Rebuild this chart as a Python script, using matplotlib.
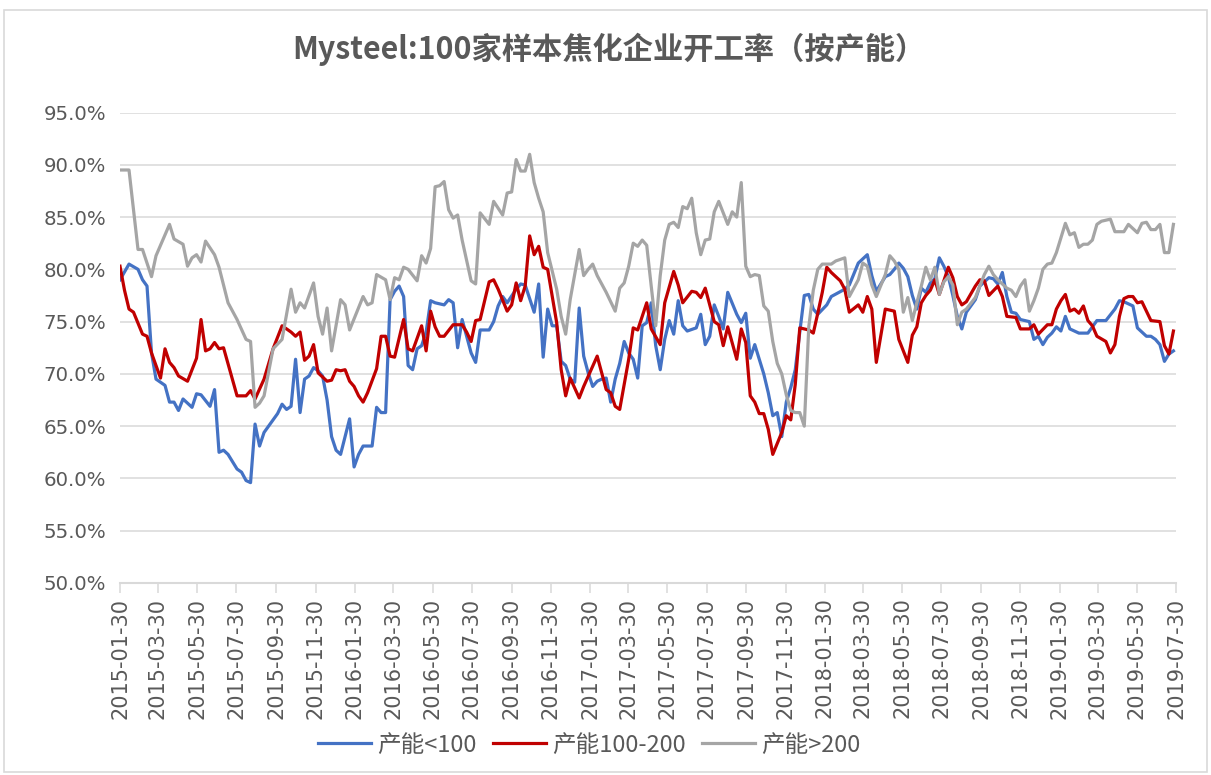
import matplotlib
matplotlib.use("Agg")
import matplotlib.pyplot as plt
import matplotlib.dates as mdates
import matplotlib.patches as patches
from matplotlib.ticker import FuncFormatter
import numpy as np
import pandas as pd

plt.rcParams["font.family"] = ["DejaVu Sans"]

START = "2015-01-30"
title = "Mysteel:100家样本焦化企业开工率（按产能）"
labels = ["产能<100", "产能100-200", "产能>200"]
colors = ["#4472C4", "#C00000", "#A5A5A5"]

# weeks after 2015-01-30, capacity < 100
blue_weeks = [0, 2, 4, 5, 6, 7, 8, 10, 11, 12, 13, 14, 16, 17, 18, 20, 21, 22, 23, 24,
              26, 27, 28, 29, 30, 31, 32, 33, 35, 36, 37, 38, 39, 40, 41, 42, 43, 44, 45, 46,
              47, 48, 49, 51, 52, 53, 54, 56, 57, 58, 59, 60, 61, 62, 63, 64, 65, 66, 67, 68,
              69, 70, 72, 73, 74, 75, 76, 77, 78, 79, 80, 82, 83, 84, 85, 86, 88, 89, 90, 91,
              92, 93, 94, 95, 96, 97, 98, 99, 100, 101, 102, 103, 104, 105, 106, 107, 108, 109, 110, 111,
              112, 113, 114, 115, 116, 117, 118, 119, 120, 121, 122, 123, 124, 125, 126, 128, 129, 130, 131, 132,
              133, 134, 135, 137, 138, 139, 140, 141, 143, 144, 145, 146, 147, 148, 149, 150, 151, 152, 153, 154,
              155, 157, 158, 161, 162, 164, 166, 167, 168, 170, 171, 172, 173, 174, 175, 176, 177, 178, 179, 180,
              181, 182, 183, 184, 185, 186, 187, 188, 189, 190, 191, 193, 194, 195, 196, 197, 198, 199, 200, 202,
              203, 204, 205, 206, 207, 208, 209, 210, 211, 213, 215, 217, 219, 221, 222, 223, 225, 226, 228, 229,
              230, 231, 232, 233, 234]
blue_vals = [79.0, 80.5, 80.0, 79.0, 78.4, 72.0, 69.5, 68.9, 67.3, 67.3, 66.5, 67.6, 66.8, 68.1, 68.0, 66.9, 68.5, 62.5, 62.7, 62.3,
             60.9, 60.6, 59.8, 59.6, 65.2, 63.1, 64.4, 65.0, 66.2, 67.1, 66.6, 66.9, 71.4, 66.3, 69.5, 69.8, 70.6, 70.3, 69.8, 67.5,
             64.0, 62.7, 62.3, 65.7, 61.1, 62.3, 63.1, 63.1, 66.8, 66.3, 66.3, 77.1, 77.9, 78.4, 77.4, 70.8, 70.4, 72.4, 72.7, 74.0,
             77.0, 76.8, 76.6, 77.1, 76.8, 72.5, 75.2, 73.6, 72.0, 71.1, 74.2, 74.2, 75.0, 76.5, 77.4, 76.8, 78.1, 78.6, 78.5, 77.2,
             75.9, 78.6, 71.6, 76.2, 74.6, 74.6, 71.2, 70.8, 69.5, 69.2, 76.3, 71.7, 70.1, 68.8, 69.3, 69.5, 69.6, 67.3, 69.5, 71.0,
             73.1, 72.0, 71.4, 69.6, 74.6, 74.9, 76.8, 72.7, 70.4, 73.3, 75.1, 73.8, 77.0, 74.6, 74.1, 74.4, 75.7, 72.8, 73.6, 76.6,
             75.5, 74.3, 77.8, 75.7, 74.9, 75.8, 71.5, 72.8, 70.0, 68.2, 66.0, 66.3, 64.0, 67.3, 68.7, 70.4, 74.0, 77.5, 77.6, 76.2,
             75.7, 76.6, 77.4, 78.1, 78.5, 80.6, 81.4, 79.4, 77.9, 79.3, 79.5, 80.0, 80.6, 80.1, 79.3, 77.5, 76.2, 78.2, 77.8, 78.7,
             79.1, 81.1, 80.3, 79.3, 77.5, 75.5, 74.3, 75.9, 76.5, 77.1, 78.4, 79.2, 79.1, 78.6, 79.7, 77.4, 75.9, 75.8, 75.2, 75.0,
             73.3, 73.6, 72.8, 73.5, 73.9, 74.5, 74.1, 75.5, 74.3, 73.9, 73.9, 75.1, 75.1, 76.2, 77.0, 76.9, 76.5, 74.4, 73.6, 73.6,
             73.3, 72.8, 71.2, 71.9, 72.2]

# capacity 100-200
red_weeks = [0, 1, 2, 3, 5, 6, 7, 9, 10, 11, 12, 13, 15, 17, 18, 19, 20, 21, 22, 23,
             26, 28, 29, 30, 32, 34, 36, 38, 39, 40, 41, 42, 43, 44, 46, 47, 48, 49, 50, 51,
             52, 53, 54, 55, 57, 58, 59, 60, 61, 63, 64, 65, 67, 68, 69, 70, 71, 72, 74, 76,
             77, 78, 79, 80, 81, 82, 83, 84, 86, 87, 88, 89, 90, 91, 92, 93, 94, 95, 97, 98,
             99, 100, 102, 103, 106, 108, 109, 110, 111, 113, 114, 115, 117, 118, 120, 121, 123, 124, 125, 127,
             128, 129, 130, 132, 133, 134, 135, 137, 138, 139, 140, 141, 142, 143, 144, 145, 147, 148, 149, 150,
             151, 153, 154, 155, 156, 157, 158, 160, 161, 162, 164, 165, 166, 167, 168, 170, 172, 173, 175, 176,
             177, 178, 179, 180, 181, 182, 184, 185, 186, 187, 188, 190, 191, 192, 193, 195, 196, 197, 199, 200,
             202, 203, 204, 206, 207, 208, 209, 210, 211, 212, 213, 214, 215, 216, 217, 219, 220, 221, 222, 223,
             224, 225, 226, 227, 228, 229, 231, 232, 233, 234]
red_vals = [80.3, 78.0, 76.2, 75.9, 73.8, 73.6, 72.0, 69.6, 72.4, 71.1, 70.6, 69.8, 69.3, 71.5, 75.2, 72.2, 72.4, 73.0, 72.4, 72.5,
            67.9, 67.9, 68.4, 67.6, 69.5, 72.4, 74.6, 74.0, 73.6, 74.0, 71.3, 71.7, 72.8, 70.1, 69.3, 69.4, 70.4, 70.3, 70.4, 69.3,
            68.8, 67.9, 67.3, 68.2, 70.5, 73.6, 73.6, 71.7, 71.6, 75.2, 72.4, 72.2, 74.6, 72.2, 76.0, 74.5, 73.6, 73.6, 74.7, 74.7,
            74.0, 73.1, 75.1, 75.2, 77.0, 78.8, 79.0, 78.1, 76.0, 76.6, 78.7, 77.0, 78.4, 83.2, 81.4, 82.2, 80.2, 80.0, 74.9, 70.4,
            67.9, 69.6, 67.7, 68.8, 71.7, 68.5, 68.2, 66.9, 66.6, 71.4, 74.4, 74.2, 76.8, 74.3, 72.8, 76.8, 79.8, 78.5, 76.8, 77.9,
            77.8, 77.3, 78.2, 75.0, 74.7, 72.7, 74.5, 71.4, 74.3, 73.0, 67.9, 67.3, 66.2, 66.2, 64.7, 62.3, 64.4, 66.0, 65.6, 69.0,
            74.4, 74.2, 73.9, 75.8, 77.8, 80.2, 79.7, 78.9, 78.1, 75.9, 76.6, 75.9, 77.4, 76.2, 71.1, 76.2, 76.0, 73.3, 71.1, 73.7,
            74.5, 76.8, 77.5, 78.0, 79.0, 77.6, 80.2, 79.2, 77.4, 76.6, 76.9, 78.4, 79.0, 78.9, 77.5, 78.4, 77.4, 75.5, 75.4, 74.3,
            74.3, 74.7, 73.8, 74.7, 74.7, 76.2, 77.0, 77.6, 76.0, 76.2, 75.8, 76.5, 75.1, 74.6, 73.6, 73.1, 72.0, 72.8, 75.5, 77.2,
            77.4, 77.4, 76.8, 76.9, 76.0, 75.1, 75.0, 72.7, 71.9, 74.1]

# capacity > 200
gray_weeks = [0, 2, 4, 5, 7, 8, 11, 12, 14, 15, 16, 17, 18, 19, 21, 22, 24, 26, 28, 29,
              30, 31, 32, 34, 36, 38, 39, 40, 41, 43, 44, 45, 46, 47, 49, 50, 51, 54, 55, 56,
              57, 59, 60, 61, 62, 63, 64, 66, 67, 68, 69, 70, 71, 72, 73, 74, 75, 76, 78, 79,
              80, 82, 83, 85, 86, 87, 88, 89, 90, 91, 92, 93, 94, 95, 97, 98, 99, 100, 102, 103,
              104, 105, 106, 108, 110, 111, 112, 113, 114, 115, 116, 117, 118, 119, 120, 121, 122, 123, 124, 125,
              126, 127, 128, 129, 130, 131, 132, 133, 134, 135, 136, 137, 138, 139, 140, 141, 142, 143, 144, 145,
              146, 147, 148, 149, 150, 151, 152, 153, 154, 155, 156, 158, 159, 161, 162, 164, 165, 166, 167, 168,
              170, 171, 172, 173, 174, 175, 176, 177, 178, 179, 180, 181, 182, 183, 184, 185, 186, 187, 188, 190,
              191, 192, 193, 194, 195, 196, 197, 198, 199, 200, 201, 202, 203, 204, 205, 206, 207, 208, 209, 210,
              211, 212, 213, 214, 215, 216, 217, 218, 220, 221, 223, 224, 226, 227, 228, 229, 230, 231, 232, 233,
              234]
gray_vals = [89.5, 89.5, 81.9, 81.9, 79.3, 81.3, 84.3, 82.9, 82.4, 80.3, 81.1, 81.4, 80.7, 82.7, 81.4, 80.2, 76.8, 75.2, 73.3, 73.1,
             66.8, 67.2, 67.9, 72.4, 73.3, 78.1, 75.9, 76.8, 76.3, 78.7, 75.5, 73.8, 76.3, 72.2, 77.1, 76.6, 74.2, 77.4, 76.6, 76.8,
             79.5, 79.0, 77.1, 79.2, 79.0, 80.2, 80.0, 78.9, 81.3, 80.6, 82.0, 87.9, 88.0, 88.4, 85.7, 84.9, 85.2, 82.8, 78.9, 78.6,
             85.4, 84.3, 86.5, 85.2, 87.3, 87.4, 90.5, 89.4, 89.4, 91.0, 88.3, 86.8, 85.5, 81.6, 78.1, 75.5, 73.8, 77.1, 81.9, 79.4,
             80.0, 80.5, 79.4, 77.8, 76.0, 78.2, 78.7, 80.3, 82.5, 82.2, 82.8, 82.3, 78.4, 74.6, 79.4, 82.8, 84.3, 84.5, 84.0, 86.0,
             85.8, 86.8, 83.5, 81.4, 82.8, 82.9, 85.5, 86.5, 85.4, 84.3, 85.5, 85.0, 88.3, 80.3, 79.3, 79.5, 79.4, 76.5, 76.0, 73.1,
             71.0, 70.0, 68.0, 66.5, 66.3, 66.3, 65.0, 74.5, 78.0, 80.0, 80.5, 80.5, 80.8, 81.1, 77.4, 79.0, 80.6, 80.3, 78.5, 77.4,
             79.5, 81.3, 80.8, 80.0, 75.9, 77.3, 75.1, 76.8, 78.4, 80.2, 79.0, 80.2, 77.6, 78.8, 79.3, 78.5, 74.7, 75.9, 76.2, 77.3,
             78.4, 79.5, 80.3, 79.5, 79.0, 78.6, 78.2, 78.0, 77.4, 78.4, 79.0, 76.0, 77.0, 78.2, 80.0, 80.5, 80.6, 81.6, 83.0, 84.4,
             83.3, 83.5, 82.1, 82.4, 82.4, 82.8, 84.3, 84.6, 84.8, 83.6, 83.6, 84.3, 83.5, 84.4, 84.5, 83.8, 83.8, 84.3, 81.6, 81.6,
             84.3]


def to_dates(weeks):
    return pd.Timestamp(START) + pd.to_timedelta(np.array(weeks) * 7, unit="D")


fig = plt.figure(figsize=(12.11, 7.75), dpi=100)
fig.add_artist(patches.Rectangle((4 / 1211, 3 / 775), 1203 / 1211, 762 / 775,
                                 transform=fig.transFigure, fill=False,
                                 edgecolor="#d9d9d9", linewidth=1.2))

ax = fig.add_axes([120 / 1211, 1 - 583 / 775, 1056 / 1211, (583 - 112.5) / 775])

series = [(blue_weeks, blue_vals), (red_weeks, red_vals), (gray_weeks, gray_vals)]
handles = []
for (w, v), c, lab in zip(series, colors, labels):
    h, = ax.plot(to_dates(w), v, color=c, linewidth=2.3, label=lab,
                 solid_joinstyle="round")
    handles.append(h)

ax.set_ylim(50, 95)
ax.set_yticks(np.arange(50, 96, 5))
ax.yaxis.set_major_formatter(FuncFormatter(lambda y, _: f"{y:.1f}%"))
ax.grid(axis="y", color="#d9d9d9", linewidth=1.1)
ax.set_axisbelow(True)

ticks = pd.date_range(START, "2019-07-30", freq=pd.DateOffset(months=2))
ax.set_xlim(pd.Timestamp(START), pd.Timestamp("2019-07-30"))
ax.set_xticks(ticks)
ax.xaxis.set_major_formatter(mdates.DateFormatter("%Y-%m-%d"))

for s in ["top", "right", "left"]:
    ax.spines[s].set_visible(False)
ax.spines["bottom"].set_color("#d9d9d9")
ax.spines["bottom"].set_linewidth(1.5)

ax.tick_params(axis="y", length=0, pad=10, labelsize=14.2, labelcolor="#595959")
ax.tick_params(axis="x", length=7, width=1.1, color="#d9d9d9", pad=3.5,
               labelsize=15, labelcolor="#595959", rotation=90)

fig.text(609 / 1211, 1 - 49 / 775, title, ha="center", va="center",
         fontsize=21.8, fontweight="bold", color="#595959",
         family=["Noto Sans CJK SC", "DejaVu Sans"])

fig.legend(handles=handles, labels=labels, loc="center", ncol=3,
           bbox_to_anchor=(589 / 1211, 1 - 745 / 775), frameon=False,
           handlelength=2.25, handletextpad=0.25, columnspacing=0.7,
           prop={"family": ["Noto Sans CJK SC", "DejaVu Sans"], "size": 17},
           labelcolor="#595959")

fig.savefig("out.png", dpi=100)
plt.close(fig)
